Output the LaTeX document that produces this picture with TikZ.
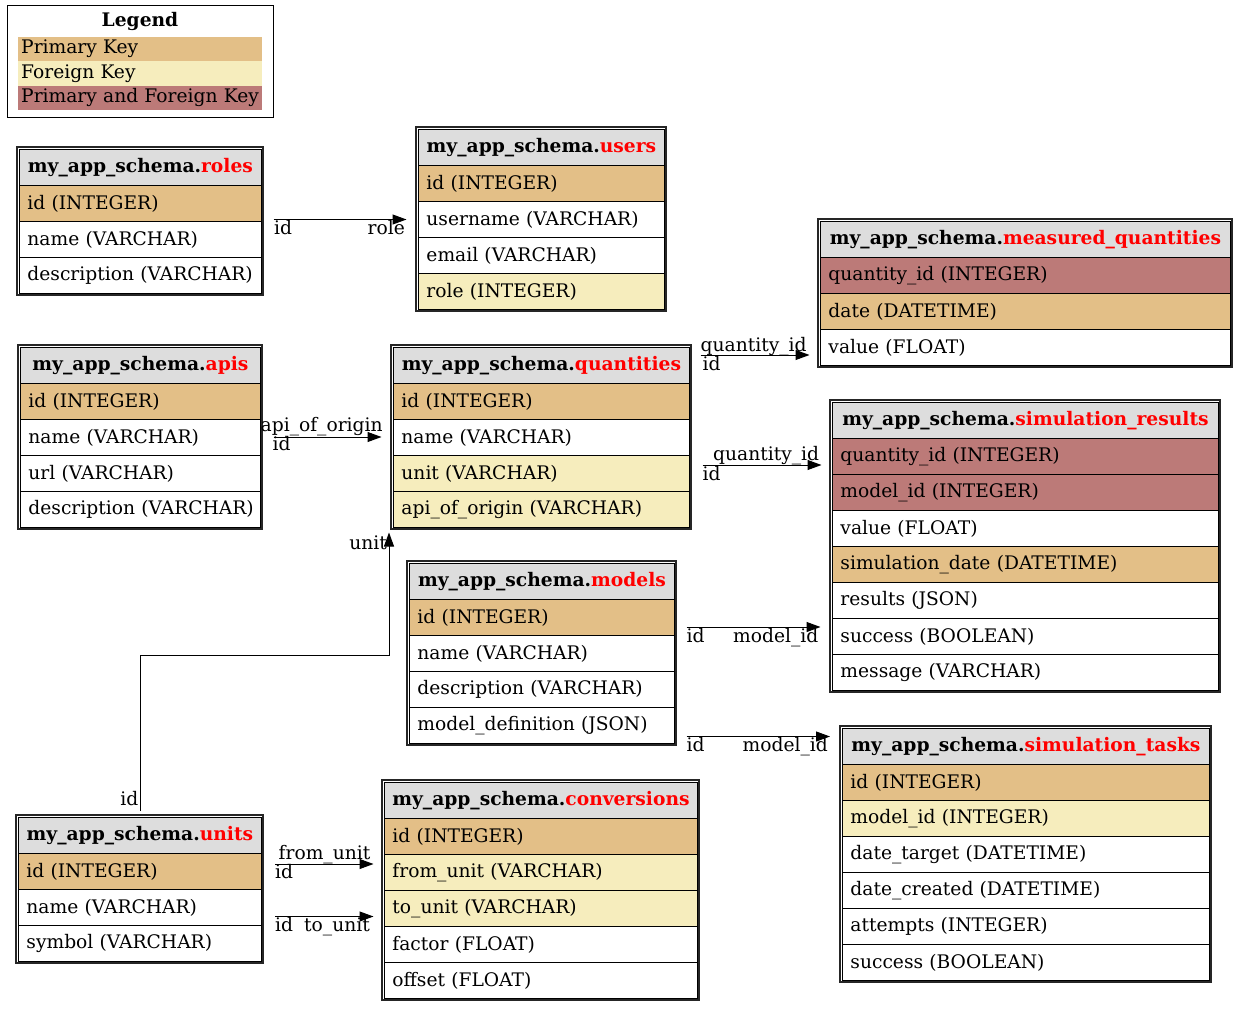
\documentclass[tikz,border=0pt]{standalone}
\usepackage{fontspec}
\setmainfont{DejaVu Serif}
\usetikzlibrary{arrows.meta}
\definecolor{pk}{HTML}{E3BF87}
\definecolor{fk}{HTML}{F6EDBD}
\definecolor{pfk}{HTML}{BC7A78}
\definecolor{hdrgray}{HTML}{DDDDDD}
\definecolor{nofill}{HTML}{FFFFFF}
\newcommand\fs{\fontsize{18.67}{22}\selectfont}
\newcommand\dbtab[6]{%
  \pgfmathsetmacro\tw{#3-#2-4-16}%
  \node[hdr, minimum width={#3-#2-4}, anchor=north west] (#1-h) at ({#2+2},{-(#4+2)}) {my\_app\_schema.\textcolor{red}{#5}};
  \foreach \col/\txt [count=\i] in {#6} {
    \node[cell, fill=\col, text width=\tw pt, anchor=north west] (#1-\i) at ({#2+2},{-(#4+2+36*\i)}) {\mbox{\txt}};
    \xdef\nrows{\i}
  }
  \draw[tabborder] (#2,-#4) rectangle ({#3},{-(#4+4+36*(\nrows+1))});
}
\begin{document}
\begin{tikzpicture}[x=1pt,y=1pt,
  cell/.style={draw=black, line width=0.9pt, minimum height=36pt, inner xsep=8pt, inner ysep=0pt, align=left, font=\fs},
  hdr/.style={draw=black, line width=0.9pt, fill=hdrgray, minimum height=36pt, inner sep=0pt, font=\fs\bfseries},
  tabborder/.style={draw=black!85, line width=1.3pt},
  legrow/.style={minimum height=24.5pt, inner xsep=3pt, inner ysep=0pt, text width=238pt, align=left, font=\fs, anchor=north west},
  rel/.style={draw=black, line width=1pt, -{Triangle[length=14pt,width=10pt]}},
  elab/.style={font=\fs, inner sep=0pt}
]
\useasboundingbox (0,0) rectangle (1248,-1011);

% Legend
\node[draw=black, line width=0.9pt, minimum width=266pt, minimum height=112pt, anchor=north west, inner sep=0pt] (legend) at (7,-5) {};
\node[font=\fs\bfseries, anchor=base] (legtitle) at (140,-27) {Legend};
\node[legrow, fill=pk] (lg-pk) at (18,-36.5) {Primary Key};
\node[legrow, fill=fk] (lg-fk) at (18,-61) {Foreign Key};
\node[legrow, fill=pfk] (lg-pfk) at (18,-85.5) {Primary and Foreign Key};

% Tables
\dbtab{roles}{17}{263}{147}{roles}{pk/id (INTEGER), nofill/name (VARCHAR), nofill/description (VARCHAR)}
\dbtab{users}{416}{666}{127}{users}{pk/id (INTEGER), nofill/username (VARCHAR), nofill/email (VARCHAR), fk/role (INTEGER)}
\dbtab{mq}{818}{1232}{219}{measured\_quantities}{pfk/quantity\_id (INTEGER), pk/date (DATETIME), nofill/value (FLOAT)}
\dbtab{apis}{18}{262}{345}{apis}{pk/id (INTEGER), nofill/name (VARCHAR), nofill/url (VARCHAR), nofill/description (VARCHAR)}
\dbtab{quant}{391}{691}{345}{quantities}{pk/id (INTEGER), nofill/name (VARCHAR), fk/unit (VARCHAR), fk/api\_of\_origin (VARCHAR)}
\dbtab{simres}{830}{1220}{400}{simulation\_results}{pfk/quantity\_id (INTEGER), pfk/model\_id (INTEGER), nofill/value (FLOAT), pk/simulation\_date (DATETIME), nofill/results (JSON), nofill/success (BOOLEAN), nofill/message (VARCHAR)}
\dbtab{models}{407}{676}{561}{models}{pk/id (INTEGER), nofill/name (VARCHAR), nofill/description (VARCHAR), nofill/model\_definition (JSON)}
\dbtab{simtask}{840}{1211}{726}{simulation\_tasks}{pk/id (INTEGER), fk/model\_id (INTEGER), nofill/date\_target (DATETIME), nofill/date\_created (DATETIME), nofill/attempts (INTEGER), nofill/success (BOOLEAN)}
\dbtab{units}{16}{263}{815}{units}{pk/id (INTEGER), nofill/name (VARCHAR), nofill/symbol (VARCHAR)}
\dbtab{conv}{382}{699}{780}{conversions}{pk/id (INTEGER), fk/from\_unit (VARCHAR), fk/to\_unit (VARCHAR), nofill/factor (FLOAT), nofill/offset (FLOAT)}

% Connectors
\coordinate (r1a) at (273.5,-219.5); \coordinate (r1b) at (406.5,-219.5);
\draw[rel] (r1a) -- (r1b);
\node[elab, anchor=base west] (r1t) at (274,-235) {id};
\node[elab, anchor=base east] (r1h) at (405,-235) {role};

\coordinate (r2a) at (700.5,-355); \coordinate (r2b) at (809.5,-355);
\draw[rel] (r2a) -- (r2b);
\node[elab, anchor=base west] (r2h) at (700.5,-351.5) {quantity\_id};
\node[elab, anchor=base west] (r2t) at (702.5,-370) {id};

\coordinate (r3a) at (702.5,-465); \coordinate (r3b) at (821.5,-465);
\draw[rel] (r3a) -- (r3b);
\node[elab, anchor=base west] (r3h) at (713,-460) {quantity\_id};
\node[elab, anchor=base west] (r3t) at (702.5,-480) {id};

\coordinate (r4a) at (273.5,-437); \coordinate (r4b) at (381.5,-437);
\draw[rel] (r4a) -- (r4b);
\node[elab, anchor=base west] (r4h) at (260.5,-431.5) {api\_of\_origin};
\node[elab, anchor=base west] (r4t) at (272.5,-450.5) {id};

\coordinate (r5a) at (140,-811); \coordinate (r5b) at (389,-532.5);
\draw[rel] (r5a) |- (389,-655) -- (r5b);
\node[elab, anchor=base east] (r5h) at (387,-549) {unit};
\node[elab, anchor=base east] (r5t) at (138.5,-805.5) {id};

\coordinate (r6a) at (686.5,-627); \coordinate (r6b) at (820.5,-627);
\draw[rel] (r6a) -- (r6b);
\node[elab, anchor=base west] (r6t) at (686.5,-642.5) {id};
\node[elab, anchor=base east] (r6h) at (818.5,-642.5) {model\_id};

\coordinate (r7a) at (686.5,-736.5); \coordinate (r7b) at (830,-736.5);
\draw[rel] (r7a) -- (r7b);
\node[elab, anchor=base west] (r7t) at (686.5,-751) {id};
\node[elab, anchor=base east] (r7h) at (828,-751) {model\_id};

\coordinate (r8a) at (275,-864); \coordinate (r8b) at (373.5,-864);
\draw[rel] (r8a) -- (r8b);
\node[elab, anchor=base west] (r8h) at (278.5,-859) {from\_unit};
\node[elab, anchor=base west] (r8t) at (275,-878.5) {id};

\coordinate (r9a) at (275,-916.5); \coordinate (r9b) at (373.5,-916.5);
\draw[rel] (r9a) -- (r9b);
\node[elab, anchor=base west] (r9t) at (275,-931) {id};
\node[elab, anchor=base east] (r9h) at (370,-931) {to\_unit};
\end{tikzpicture}
\end{document}
